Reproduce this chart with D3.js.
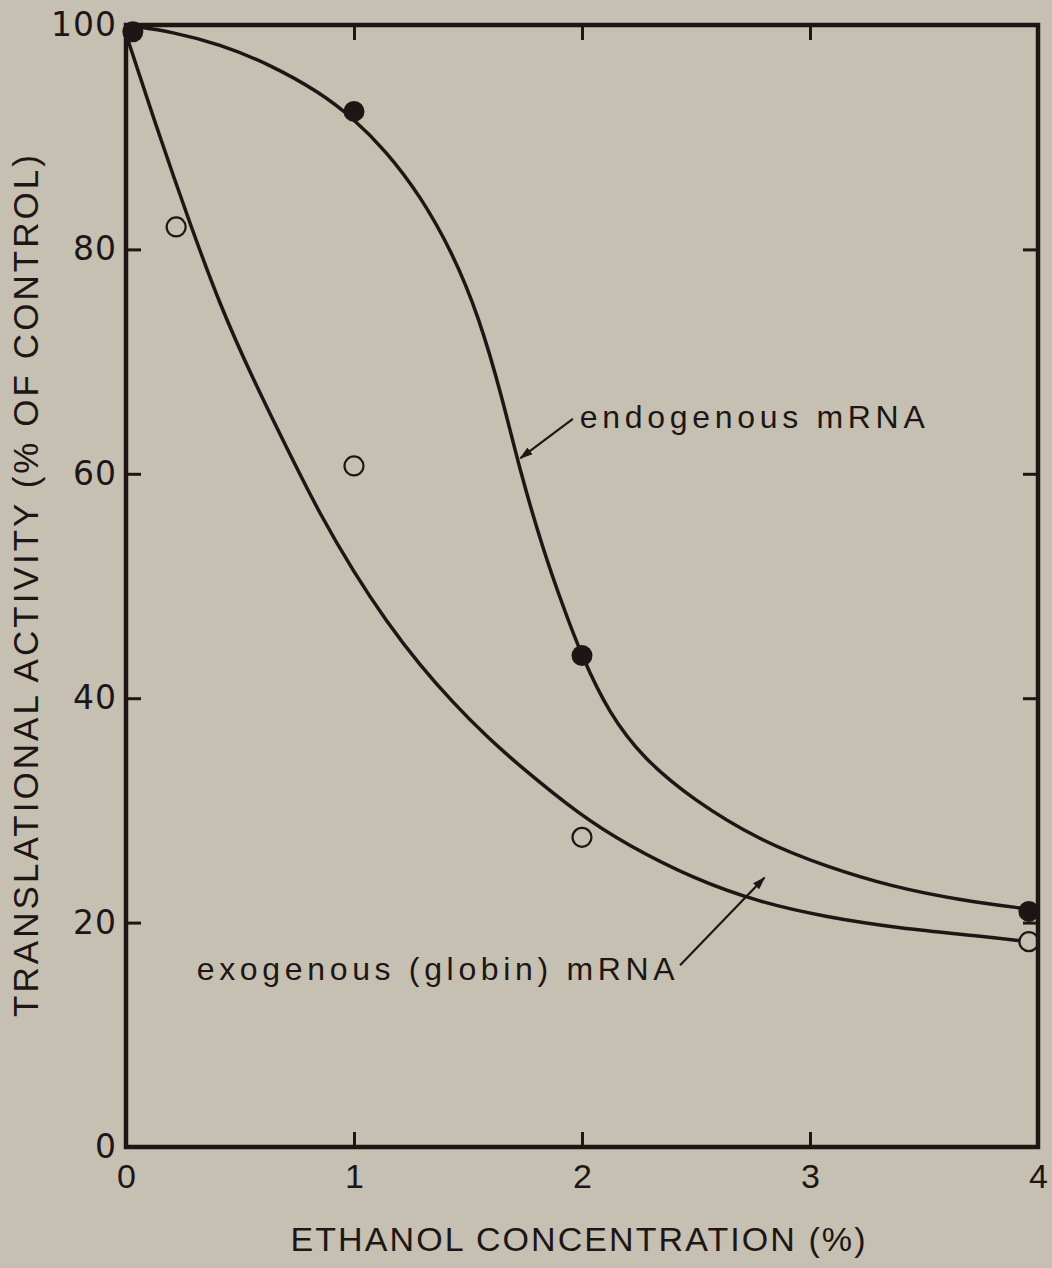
<!DOCTYPE html>
<html>
<head>
<meta charset="utf-8">
<script src="https://cdn.jsdelivr.net/npm/d3@7"></script>
<style>
  html, body { margin: 0; padding: 0; background: #c5c0b1; }
  svg { display: block; }
  text { fill: #1d1615; }
</style>
</head>
<body>
<svg id="chart" width="1052" height="1268"></svg>
<script>
// Measured points: ethanol concentration (%) vs translational activity (% of control)
const endoX = [0.03, 1, 2, 3.96];
const endoY = [99.4, 92.3, 43.8, 21.0];
const exoX  = [0.22, 1, 2, 3.96];
const exoY  = [82.0, 60.7, 27.6, 18.3];

// Hand-fitted curves through each series
const endoFitX = [0.03, 0.20, 0.41, 0.63, 0.85, 0.99, 1.14, 1.29, 1.43, 1.55, 1.65, 1.73, 1.83, 1.92, 2.00, 2.12, 2.27, 2.49, 2.78, 3.07, 3.36, 3.66, 3.96];
const endoFitY = [99.9, 99.4, 98.3, 96.5, 94.0, 91.8, 88.8, 84.8, 79.8, 73.9, 66.8, 60.1, 53.2, 48.0, 43.7, 38.6, 34.6, 30.9, 27.3, 25.0, 23.2, 22.0, 21.2];
const exoFitX  = [0.00, 0.12, 0.27, 0.41, 0.56, 0.71, 0.85, 1.00, 1.14, 1.29, 1.43, 1.58, 1.73, 1.99, 2.20, 2.49, 2.78, 3.07, 3.39, 3.75, 3.96];
const exoFitY  = [99.2, 91.7, 82.9, 75.1, 68.3, 62.1, 56.4, 51.2, 46.9, 42.9, 39.7, 36.6, 33.9, 29.6, 26.9, 23.9, 21.8, 20.5, 19.5, 18.8, 18.3];

// Axis ticks
const xTicks = [0, 1, 2, 3, 4];
const yTicks = [0, 20, 40, 60, 80, 100];

const labels = {
  x: "ETHANOL CONCENTRATION (%)",
  y: "TRANSLATIONAL ACTIVITY (% OF CONTROL)",
  endo: "endogenous mRNA",
  exo: "exogenous (globin) mRNA"
};

const INK = "#1d1615";
const BG = "#c5c0b1";

const svg = d3.select("#chart");
const x = d3.scaleLinear().domain([0, 4]).range([126, 1038]);
const y = d3.scaleLinear().domain([0, 100]).range([1147, 25]);

const zip = (xs, ys) => xs.map((v, i) => [v, ys[i]]);

// Axes with inward ticks on all four sides
const tickLen = 15;
const gx = svg.append("g").attr("transform", `translate(0,${y(0)})`)
  .call(d3.axisBottom(x).tickValues(xTicks).tickSize(-tickLen).tickPadding(17).tickFormat(d3.format("d")));
const gy = svg.append("g").attr("transform", `translate(${x(0)},0)`)
  .call(d3.axisLeft(y).tickValues(yTicks).tickSize(-tickLen).tickPadding(9).tickFormat(d3.format("d")));
const gt = svg.append("g").attr("transform", `translate(0,${y(100)})`)
  .call(d3.axisTop(x).tickValues([1, 2, 3]).tickSize(-tickLen).tickFormat(""));
const gr = svg.append("g").attr("transform", `translate(${x(4)},0)`)
  .call(d3.axisRight(y).tickValues([20, 40, 60, 80]).tickSize(-tickLen).tickFormat(""));

[gx, gy, gt, gr].forEach(g => {
  g.select(".domain").remove();
  g.selectAll(".tick line").attr("stroke", INK).attr("stroke-width", 3);
});
gx.selectAll(".tick text").attr("fill", INK)
  .style("font-family", "'Liberation Sans', Arial, sans-serif").style("font-size", "34px");
gy.selectAll(".tick text").attr("fill", INK)
  .style("font-family", "'DejaVu Sans', sans-serif").style("font-size", "33px")
  .style("letter-spacing", "1px");

// Fitted curves
const line = d3.line().x(d => x(d[0])).y(d => y(d[1])).curve(d3.curveBasis);
svg.append("path").datum(zip(endoFitX, endoFitY))
  .attr("d", line).attr("fill", "none").attr("stroke", INK).attr("stroke-width", 3.5);
svg.append("path").datum(zip(exoFitX, exoFitY))
  .attr("d", line).attr("fill", "none").attr("stroke", INK).attr("stroke-width", 3.5);

// Data markers
svg.append("g").selectAll("circle").data(zip(exoX, exoY)).join("circle")
  .attr("cx", d => x(d[0])).attr("cy", d => y(d[1])).attr("r", 9.5)
  .attr("fill", BG).attr("stroke", INK).attr("stroke-width", 2.2);
svg.append("g").selectAll("circle").data(zip(endoX, endoY)).join("circle")
  .attr("cx", d => x(d[0])).attr("cy", d => y(d[1])).attr("r", 10.5)
  .attr("fill", INK);

// Plot frame
svg.append("rect")
  .attr("x", x(0)).attr("y", y(100))
  .attr("width", x(4) - x(0)).attr("height", y(0) - y(100))
  .attr("fill", "none").attr("stroke", INK).attr("stroke-width", 4.5);

// Axis titles
svg.append("text")
  .attr("x", 578).attr("y", 1251)
  .attr("text-anchor", "middle")
  .attr("textLength", 575).attr("lengthAdjust", "spacing")
  .style("font-family", "'Liberation Sans', Arial, sans-serif").style("font-size", "34px")
  .text(labels.x);
svg.append("text")
  .attr("transform", `translate(38,${(y(0) + y(100)) / 2}) rotate(-90)`)
  .attr("text-anchor", "middle")
  .attr("textLength", 862).attr("lengthAdjust", "spacing")
  .style("font-family", "'Liberation Sans', Arial, sans-serif").style("font-size", "35px")
  .text(labels.y);

// Curve annotations with arrows
svg.append("defs").append("marker")
  .attr("id", "head").attr("viewBox", "0 0 10 10")
  .attr("refX", 9).attr("refY", 5)
  .attr("markerWidth", 6).attr("markerHeight", 6)
  .attr("markerUnits", "strokeWidth")
  .attr("orient", "auto")
  .append("path").attr("d", "M0,1.8 L10,5 L0,8.2 Z").attr("fill", INK);

const notes = [
  { text: labels.endo, tx: 1.99, ty: 64.1, len: 345, from: [1.96, 64.9], to: [1.73, 61.4] },
  { text: labels.exo,  tx: 0.31, ty: 14.9, len: 478, from: [2.43, 16.2], to: [2.80, 24.0] }
];
notes.forEach(n => {
  svg.append("text")
    .attr("x", x(n.tx)).attr("y", y(n.ty))
    .attr("textLength", n.len).attr("lengthAdjust", "spacing")
    .style("font-family", "'Liberation Sans', Arial, sans-serif").style("font-size", "32px")
    .text(n.text);
  svg.append("line")
    .attr("x1", x(n.from[0])).attr("y1", y(n.from[1]))
    .attr("x2", x(n.to[0])).attr("y2", y(n.to[1]))
    .attr("stroke", INK).attr("stroke-width", 2.2)
    .attr("marker-end", "url(#head)");
});
</script>
</body>
</html>
